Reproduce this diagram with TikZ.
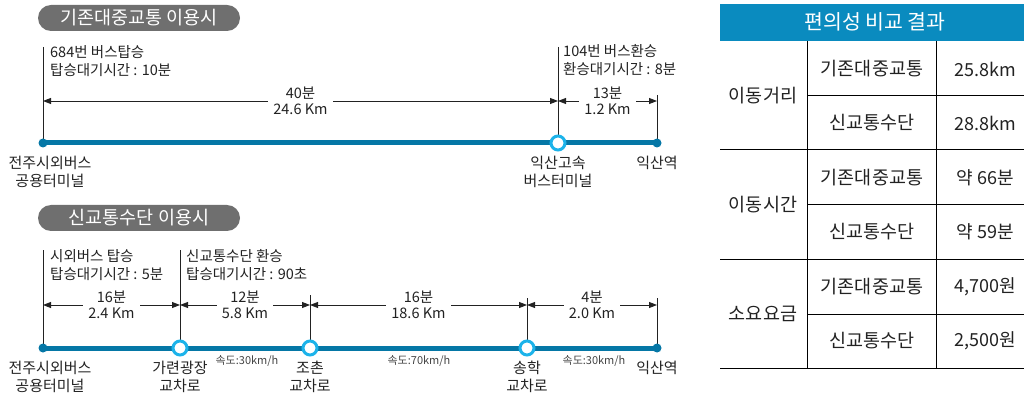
\documentclass[tikz,border=0pt]{standalone}
\usepackage{fontspec}
\setmainfont{Noto Sans CJK KR}
\usetikzlibrary{arrows.meta}
\definecolor{lineblue}{HTML}{0577A6}
\definecolor{ringcyan}{HTML}{1CB3EA}
\definecolor{pillgray}{HTML}{6F6F6F}
\definecolor{headblue}{HTML}{0A8BBF}
\definecolor{ink}{HTML}{222222}
\definecolor{speedgray}{HTML}{444444}
\newcommand\fsz[2]{\fontsize{#1}{#2}\selectfont}
\tikzset{
  rail/.style={line width=5pt, lineblue},
  thinline/.style={line width=0.9pt, ink},
  dimarrow/.style={thinline, {Triangle[length=8pt,width=6pt]}-{Triangle[length=8pt,width=6pt]}},
  dimlbl/.style={fill=white, inner xsep=5pt, inner ysep=1pt, align=center, text=ink, font=\fsz{14.5}{16}},
  note/.style={anchor=west, inner sep=0pt, align=left, text=ink, font=\fsz{14.5}{18}},
  stoplbl/.style={inner sep=0pt, align=center, text=ink, font=\fsz{15}{18}},
  speedlbl/.style={inner sep=0pt, text=speedgray, font=\fsz{11}{12}},
  dot/.style={circle, fill=lineblue, minimum size=9pt, inner sep=0pt},
  ring/.style={circle, draw=ringcyan, line width=3pt, fill=white, minimum size=14pt, inner sep=0pt},
  pill/.style={fill=pillgray, rounded corners=13pt, minimum width=202pt, minimum height=26pt, inner sep=0pt, text=white, font=\fsz{18.5}{20}},
  tline/.style={line width=1pt, black},
  tcell/.style={inner sep=0pt, text=ink, font=\fsz{18.5}{20}},
  tval/.style={inner sep=0pt, text=ink, font=\fsz{18}{20}},
}
\begin{document}
\begin{tikzpicture}[x=1pt, y=-1pt]
\useasboundingbox (0,0) rectangle (1024,395);

% ---------------- top: existing transit ----------------
\node[pill] (pillA) at (139,18) {기존대중교통 이용시};

\coordinate (a0) at (43,143);
\coordinate (a1) at (558,143);
\coordinate (a2) at (657,143);
\coordinate (a0t) at (43,47);
\coordinate (a1t) at (558,47);
\coordinate (a2t) at (657,95);
\coordinate (a0d) at (43,101);
\coordinate (a1d) at (558,101);
\coordinate (a2d) at (657,101);

\draw[thinline] (a0t) -- (a0);
\draw[thinline] (a1t) -- (a1);
\draw[thinline] (a2t) -- (a2);
\draw[rail] (a0) -- (a2);

\draw[dimarrow] (a0d) -- (a1d) node[midway, dimlbl] (la1) {40분\\24.6 Km};
\draw[dimarrow] (a1d) -- (a2d) node[midway, dimlbl] (la2) {13분\\1.2 Km};

\node[dot] (sa0) at (a0) {};
\node[ring] (sa1) at (a1) {};
\node[dot] (sa2) at (a2) {};

\node[note] (na0) at (50,61) {684번 버스탑승\\탑승대기시간 : 10분};
\node[note] (na1) at (563,60) {104번 버스환승\\환승대기시간 : 8분};

\node[stoplbl] (ta0) at (50,172) {전주시외버스\\공용터미널};
\node[stoplbl] (ta1) at (558,172) {익산고속\\버스터미널};
\node[stoplbl] (ta2) at (657,163) {익산역};

% ---------------- bottom: new transit ----------------
\node[pill] (pillB) at (139,218) {신교통수단 이용시};

\coordinate (b0) at (43,348);
\coordinate (b1) at (180,348);
\coordinate (b2) at (310,348);
\coordinate (b3) at (527,348);
\coordinate (b4) at (657,348);
\coordinate (b0t) at (43,250);
\coordinate (b1t) at (180,250);
\coordinate (b2t) at (310,295);
\coordinate (b3t) at (527,298);
\coordinate (b4t) at (657,298);
\coordinate (b0d) at (43,305);
\coordinate (b1d) at (180,305);
\coordinate (b2d) at (310,305);
\coordinate (b3d) at (527,305);
\coordinate (b4d) at (657,305);

\draw[thinline] (b0t) -- (b0);
\draw[thinline] (b1t) -- (b1);
\draw[thinline] (b2t) -- (b2);
\draw[thinline] (b3t) -- (b3);
\draw[thinline] (b4t) -- (b4);
\draw[rail] (b0) -- (b4);

\draw[dimarrow] (b0d) -- (b1d) node[midway, dimlbl] (lb1) {16분\\2.4 Km};
\draw[dimarrow] (b1d) -- (b2d) node[midway, dimlbl] (lb2) {12분\\5.8 Km};
\draw[dimarrow] (b2d) -- (b3d) node[midway, dimlbl] (lb3) {16분\\18.6 Km};
\draw[dimarrow] (b3d) -- (b4d) node[midway, dimlbl] (lb4) {4분\\2.0 Km};

\node[dot] (sb0) at (b0) {};
\node[ring] (sb1) at (b1) {};
\node[ring] (sb2) at (b2) {};
\node[ring] (sb3) at (b3) {};
\node[dot] (sb4) at (b4) {};

\node[note] (nb0) at (50,265) {시외버스 탑승\\탑승대기시간 : 5분};
\node[note] (nb1) at (186,265) {신교통수단 환승\\탑승대기시간 : 90초};

\node[stoplbl] (tb0) at (50,377) {전주시외버스\\공용터미널};
\node[stoplbl] (tb1) at (180,377) {가련광장\\교차로};
\node[stoplbl] (tb2) at (310,377) {조촌\\교차로};
\node[stoplbl] (tb3) at (527,377) {송학\\교차로};
\node[stoplbl] (tb4) at (657,368) {익산역};

\node[speedlbl] (sp1) at (247,361) {속도:30km/h};
\node[speedlbl] (sp2) at (419,361) {속도:70km/h};
\node[speedlbl] (sp3) at (594,361) {속도:30km/h};

% ---------------- table ----------------
\fill[headblue] (720,4) rectangle (1024,41);
\node[inner sep=0pt, text=white, font=\fsz{20.5}{22}] (thead) at (875,22) {편의성 비교 결과};

\draw[tline] (807,41) -- (807,368);
\draw[tline] (936,41) -- (936,368);
\draw[tline] (720,150) -- (1024,150);
\draw[tline] (720,259) -- (1024,259);
\draw[tline] (720,368) -- (1024,368);
\draw[tline] (807,96) -- (1024,96);
\draw[tline] (807,205) -- (1024,205);
\draw[tline] (807,314) -- (1024,314);

\node[tcell] (g1) at (763,96) {이동거리};
\node[tcell] (g2) at (763,205) {이동시간};
\node[tcell] (g3) at (763,314) {소요요금};

\node[tcell] (r11) at (872,69) {기존대중교통};
\node[tcell] (r12) at (872,123) {신교통수단};
\node[tcell] (r21) at (872,178) {기존대중교통};
\node[tcell] (r22) at (872,232) {신교통수단};
\node[tcell] (r31) at (872,287) {기존대중교통};
\node[tcell] (r32) at (872,341) {신교통수단};

\node[tval] (v11) at (985,69) {25.8km};
\node[tval] (v12) at (985,123) {28.8km};
\node[tval] (v21) at (985,178) {약 66분};
\node[tval] (v22) at (985,232) {약 59분};
\node[tval] (v31) at (985,287) {4,700원};
\node[tval] (v32) at (985,341) {2,500원};
\end{tikzpicture}
\end{document}
